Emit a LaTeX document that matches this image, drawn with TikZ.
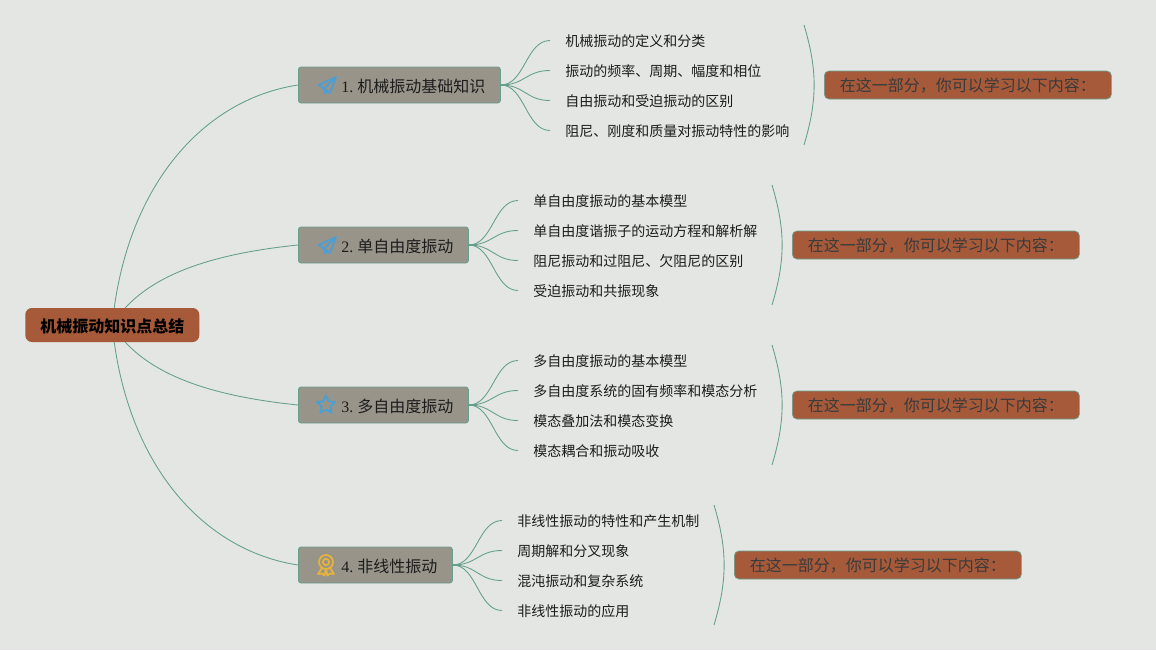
\documentclass[tikz,border=0pt]{standalone}
\usepackage{fontspec}
\setmainfont{Liberation Serif}
\newfontfamily\cjk{Noto Sans CJK SC}
\usetikzlibrary{backgrounds}
\definecolor{bgc}{HTML}{E3E6E3}
\definecolor{rust}{HTML}{A65A3A}
\definecolor{stone}{HTML}{98948A}
\definecolor{teal}{HTML}{659F8D}
\definecolor{inkc}{HTML}{1C1C1C}
\definecolor{dimink}{HTML}{3A3A3A}
\definecolor{blueicon}{HTML}{4A9FD3}
\definecolor{goldicon}{HTML}{E8B33A}
\tikzset{
  x=0.75pt, y=-0.75pt,
  rootbox/.style={fill=rust, rounded corners=5pt, minimum width=130.5pt, minimum height=25.5pt, inner sep=0pt, anchor=west, text height=10.6pt, text depth=0pt, font=\cjk\bfseries\fontsize{12}{14}\selectfont, text=black},
  topicbox/.style={draw=teal, line width=0.6pt, fill=stone, rounded corners=2pt, minimum height=27pt, inner xsep=0pt, inner ysep=0pt, anchor=west, align=left, text height=10.6pt, text depth=0pt, text=inkc, font=\fontsize{12}{14}\selectfont},
  leafnode/.style={anchor=west, inner xsep=11.25pt, inner ysep=1pt, text height=9.5pt, text depth=0pt, text=inkc, font=\cjk\fontsize{10.5}{12}\selectfont},
  sumbox/.style={draw=teal, line width=0.5pt, fill=rust, rounded corners=3.5pt, minimum width=215.25pt, minimum height=21pt, inner sep=0pt, anchor=west, text height=9.1pt, text depth=0pt, text=dimink, font=\cjk\fontsize{12}{14}\selectfont},
  link/.style={draw=teal, line width=0.65pt},
  planeicon/.pic={\draw[blueicon, line width=1.3pt, line join=round, line cap=round]
    (9,-8) -- (-8.5,0) -- (-3,3.5) -- (9,-8) -- (3,8) -- (-3,3.5) -- (-2,8) -- (1,6.5);},
  staricon/.pic={\draw[blueicon, line width=1.4pt, line join=round]
    (-90:9.5) -- (-54:4.6) -- (-18:9.5) -- (18:4.6) -- (54:9.5) -- (90:4.6) -- (126:9.5) -- (162:4.6) -- (198:9.5) -- (234:4.6) -- cycle;},
  medalicon/.pic={\draw[goldicon, line width=1.3pt, line join=round]
    (0,-3) circle[radius=7] (0,-3) circle[radius=3.2]
    (-4,3) -- (-8,9) -- (-4,8.5) -- (-1.5,10.5) -- (0,4.2) -- (1.5,10.5) -- (4,8.5) -- (8,9) -- (4,3);}
}
\newcommand{\txt}[2]{\hspace*{32.25pt}#1{\cjk\hspace{3pt}#2}}
\newcommand{\sumtxt}{在这一部分，你可以学习以下内容：}
\begin{document}
\begin{tikzpicture}
\useasboundingbox (0,0) rectangle (1156,650);

\node[rootbox] (root) at (25,325) {机械振动知识点总结};

\node[topicbox, minimum width=151.5pt, text width=151.5pt] (t1) at (298,85) {\txt{1.}{机械振动基础知识}};
\node[topicbox, minimum width=127.5pt, text width=127.5pt] (t2) at (298,245) {\txt{2.}{单自由度振动}};
\node[topicbox, minimum width=127.5pt, text width=127.5pt] (t3) at (298,405) {\txt{3.}{多自由度振动}};
\node[topicbox, minimum width=115.5pt, text width=115.5pt] (t4) at (298,565) {\txt{4.}{非线性振动}};

\pic at ([xshift=21.75pt]t1.west) {planeicon};
\pic at ([xshift=21.75pt]t2.west) {planeicon};
\pic at ([xshift=21pt]t3.west) {staricon};
\pic at ([xshift=21pt]t4.west) {medalicon};

\node[leafnode] (a1) at (550,40.5) {机械振动的定义和分类};
\node[leafnode] (a2) at (550,70.5) {振动的频率、周期、幅度和相位};
\node[leafnode] (a3) at (550,100.5) {自由振动和受迫振动的区别};
\node[leafnode] (a4) at (550,130.5) {阻尼、刚度和质量对振动特性的影响};

\node[leafnode] (b1) at (518,200.5) {单自由度振动的基本模型};
\node[leafnode] (b2) at (518,230.5) {单自由度谐振子的运动方程和解析解};
\node[leafnode] (b3) at (518,260.5) {阻尼振动和过阻尼、欠阻尼的区别};
\node[leafnode] (b4) at (518,290.5) {受迫振动和共振现象};

\node[leafnode] (c1) at (518,360.5) {多自由度振动的基本模型};
\node[leafnode] (c2) at (518,390.5) {多自由度系统的固有频率和模态分析};
\node[leafnode] (c3) at (518,420.5) {模态叠加法和模态变换};
\node[leafnode] (c4) at (518,450.5) {模态耦合和振动吸收};

\node[leafnode] (d1) at (502,520.5) {非线性振动的特性和产生机制};
\node[leafnode] (d2) at (502,550.5) {周期解和分叉现象};
\node[leafnode] (d3) at (502,580.5) {混沌振动和复杂系统};
\node[leafnode] (d4) at (502,610.5) {非线性振动的应用};

\node[sumbox] (s1) at (824,85) {\sumtxt};
\node[sumbox] (s2) at (792,245) {\sumtxt};
\node[sumbox] (s3) at (792,405) {\sumtxt};
\node[sumbox] (s4) at (734,565) {\sumtxt};

\begin{scope}[on background layer]
\fill[bgc] (0,0) rectangle (1156,650);
\draw[link] (root.center) .. controls (125,190) and (200,100) .. (t1.west);
\draw[link] (root.center) .. controls (140,280) and (200,255) .. (t2.west);
\draw[link] (root.center) .. controls (140,370) and (200,395) .. (t3.west);
\draw[link] (root.center) .. controls (125,460) and (200,550) .. (t4.west);
\foreach \t/\p in {t1/a,t2/b,t3/c,t4/d}{
  \foreach \i in {1,2,3,4}{
    \draw[link] (\t.east) .. controls +(24,0) and +(-24,0) .. (\p\i.west);
  }
  \draw[teal, line width=1.5pt] (\t.east) -- ++(6,0);
}
\coordinate (ba1) at (804,25);  \coordinate (bb1) at (804,145);
\coordinate (ba2) at (772,185); \coordinate (bb2) at (772,305);
\coordinate (ba3) at (772,345); \coordinate (bb3) at (772,465);
\coordinate (ba4) at (714,505); \coordinate (bb4) at (714,625);
\foreach \i in {1,2,3,4}{
  \draw[link] (ba\i) .. controls +(13.5,45) and +(13.5,-45) .. (bb\i);
}
\end{scope}
\end{tikzpicture}
\end{document}
